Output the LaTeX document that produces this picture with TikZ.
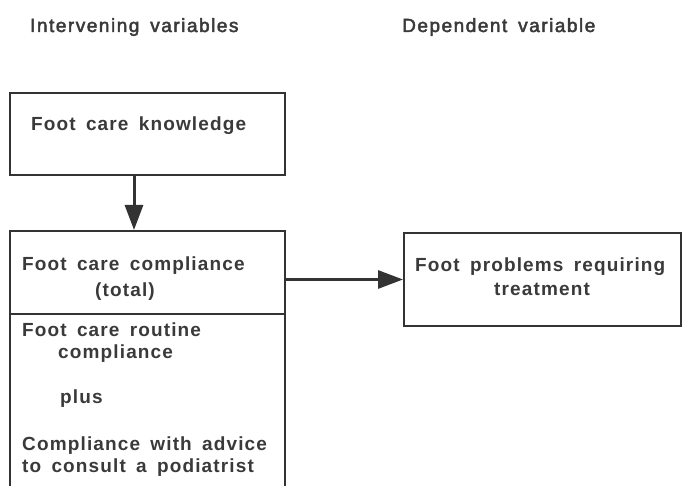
\documentclass[tikz,border=0pt]{standalone}
\usepackage{fontspec}
\setmainfont{Liberation Sans}[LetterSpace=6,WordSpace=1.6,BoldFont={Liberation Sans Bold}]
\newfontfamily\boxfont{Liberation Sans Bold}[LetterSpace=6,WordSpace=1.6]
\newfontfamily\headfont{Liberation Sans}[LetterSpace=8,WordSpace=1.6,FakeBold=2.5]
\usetikzlibrary{arrows.meta}
\definecolor{linegray}{HTML}{333333}
\definecolor{textgray}{HTML}{3A3A3A}
\begin{document}
\begin{tikzpicture}[x=1pt,y=-1pt,
  box/.style={draw=linegray,line width=2pt,inner sep=0pt,anchor=north west},
  lbl/.style={anchor=base west,inner sep=0pt,text=textgray,font=\boxfont\fontsize{19}{22}\selectfont},
  head/.style={anchor=base west,inner sep=0pt,text=textgray,font=\headfont\fontsize{19}{22}\selectfont},
  conn/.style={draw=linegray,line width=3pt,-{Triangle[length=25pt,width=18pt]}}]
\useasboundingbox (0,0) rectangle (685,486);
\fill[white] (0,0) rectangle (685,486);
% headers
\node[head] (hint) at (30,32) {Intervening variables};
\node[head] (hdep) at (402,32) {Dependent variable};
% boxes
\node[box,minimum width=275pt,minimum height=82pt] (know) at (9,92) {};
\node[box,minimum width=275pt,minimum height=83pt] (comp) at (9,230) {};
\node[box,minimum width=275pt,minimum height=200pt] (parts) at (9,313) {};
\node[box,minimum width=277pt,minimum height=93pt] (prob) at (403,232) {};
% texts
\node[lbl] (tknow) at (31,131) {Foot care knowledge};
\node[lbl] (tcomp1) at (22,271) {Foot care compliance};
\node[lbl] (tcomp2) at (95,296) {(total)};
\node[lbl] (tr1) at (22,336) {Foot care routine};
\node[lbl] (tr2) at (58,358) {compliance};
\node[lbl] (tplus) at (60,403) {plus};
\node[lbl] (ta1) at (22,450) {Compliance with advice};
\node[lbl] (ta2) at (22,472) {to consult a podiatrist};
\node[lbl] (tp1) at (415,272) {Foot problems requiring};
\node[lbl,anchor=base] (tp2) at (542,295) {treatment};
% connectors
\draw[conn] ([xshift=-13.5pt]know.south) -- ([xshift=-13.5pt]comp.north);
\draw[conn] (comp.east |- prob.west) -- (prob.west);
\end{tikzpicture}
\end{document}
